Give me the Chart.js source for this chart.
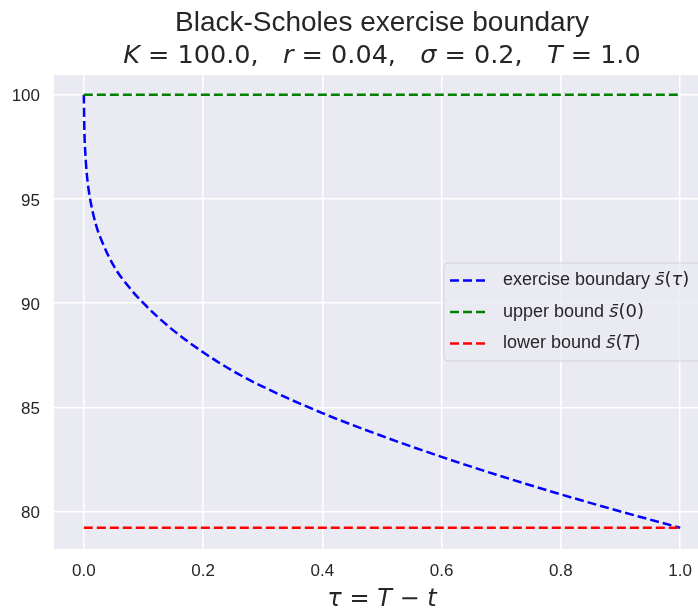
<!DOCTYPE html>
<html>
<head>
<meta charset="utf-8">
<script src="https://cdn.jsdelivr.net/npm/chart.js@4.4.1/dist/chart.umd.min.js"></script>
<style>
  html, body { margin: 0; padding: 0; background: #fff; overflow: hidden; }
  #wrap { width: 698px; height: 609px; overflow: hidden; }
</style>
</head>
<body>
<div id="wrap"><canvas id="boundaryChart" width="720" height="609"></canvas></div>
<script>
// --- data ---
const tauValues      = [0.0, 0.001, 0.0025, 0.005, 0.01, 0.02, 0.03, 0.05, 0.075, 0.1, 0.15, 0.2, 0.25, 0.3, 0.4, 0.5, 0.6, 0.7, 0.8, 0.9, 1.0];
const boundaryValues = [100.0, 98.2, 97.2, 96.2, 95.1, 93.8, 93.0, 91.8, 90.8, 90.0, 88.7, 87.65, 86.75, 86.0, 84.73, 83.63, 82.63, 81.7, 80.83, 80.01, 79.23];
const boundsTau      = [0.0, 1.0];
const upperValues    = [100.0, 100.0];
const lowerValues    = [79.23, 79.23];
const xTicks = [0.0, 0.2, 0.4, 0.6, 0.8, 1.0];
const yTicks = [80, 85, 90, 95, 100];
const legendLabels = ['exercise boundary ', 'upper bound ', 'lower bound '];
const legendArgs   = ['τ', '0', 'T'];
const lineColors   = ['#0000ff', '#008000', '#ff0000'];

const TEXT = '#262626';
const SANS = "'Liberation Sans', Arial, sans-serif";
const MATH = "'DejaVu Sans', sans-serif";
const DASH = [9, 4];

const toPoints = (xs, ys) => xs.map((x, i) => ({ x, y: ys[i] }));

// draws a row of text pieces with their own fonts, aligned as a whole
function drawPieces(ctx, pieces, x, y, align) {
    let total = 0;
    pieces.forEach(p => { ctx.font = p.font; total += ctx.measureText(p.t).width; });
    let cx = align === 'center' ? x - total / 2 : x;
    ctx.textAlign = 'left';
    pieces.forEach(p => {
        ctx.font = p.font;
        ctx.fillText(p.t, cx, y);
        cx += ctx.measureText(p.t).width;
    });
}

// ============================================================
// plot background, title, x label and legend
// ============================================================
const decorations = {
    id: 'decorations',
    beforeDraw(chart) {
        const { ctx, chartArea: a } = chart;
        ctx.save();
        ctx.fillStyle = '#eaeaf2';
        ctx.fillRect(a.left, a.top, a.right - a.left, a.bottom - a.top);
        ctx.restore();
    },
    afterDraw(chart) {
        const { ctx, chartArea: a } = chart;
        const mid = (a.left + a.right) / 2;
        ctx.save();
        ctx.fillStyle = TEXT;
        ctx.textBaseline = 'alphabetic';

        // title
        drawPieces(ctx, [{ t: 'Black-Scholes exercise boundary', font: `28px ${SANS}` }], mid, 31, 'center');
        const up = `25.5px ${MATH}`, it = `italic 25.5px ${MATH}`;
        drawPieces(ctx, [
            { t: 'K', font: it }, { t: ' = 100.0,   ', font: up },
            { t: 'r', font: it }, { t: ' = 0.04,   ', font: up },
            { t: 'σ', font: it }, { t: ' = 0.2,   ', font: up },
            { t: 'T', font: it }, { t: ' = 1.0', font: up }
        ], mid, 63, 'center');

        // x axis label
        const lu = `24px ${MATH}`, li = `italic 24px ${MATH}`;
        drawPieces(ctx, [
            { t: 'τ', font: li }, { t: ' = ', font: lu }, { t: 'T', font: li },
            { t: ' − ', font: lu }, { t: 't', font: li }
        ], mid, 606, 'center');

        // legend box
        const bx = 444, by = 263, bw = 259, bh = 98;
        ctx.beginPath();
        ctx.roundRect(bx, by, bw, bh, 4);
        ctx.fillStyle = 'rgba(234, 234, 242, 0.8)';
        ctx.fill();
        ctx.strokeStyle = 'rgba(204, 204, 204, 0.8)';
        ctx.lineWidth = 1;
        ctx.stroke();

        const rows = [280.5, 312, 343.5];
        const fs = 18;
        ctx.textBaseline = 'middle';
        rows.forEach((ry, i) => {
            ctx.beginPath();
            ctx.setLineDash(DASH);
            ctx.strokeStyle = lineColors[i];
            ctx.lineWidth = 2.5;
            ctx.moveTo(450, ry);
            ctx.lineTo(487, ry);
            ctx.stroke();
            ctx.setLineDash([]);
            ctx.fillStyle = TEXT;
            drawPieces(ctx, [
                { t: legendLabels[i], font: `${fs}px ${SANS}` },
                { t: 's\u0304', font: `italic ${fs}px ${MATH}` },
                { t: '(', font: `${fs}px ${MATH}` },
                { t: legendArgs[i], font: legendArgs[i] === '0' ? `${fs}px ${MATH}` : `italic ${fs}px ${MATH}` },
                { t: ')', font: `${fs}px ${MATH}` }
            ], 503, ry, 'left');
        });
        ctx.restore();
    }
};

const lineStyle = (color) => ({
    borderColor: color,
    borderWidth: 2.5,
    borderDash: DASH,
    pointRadius: 0,
    fill: false,
    cubicInterpolationMode: 'monotone'
});

new Chart(document.getElementById('boundaryChart'), {
    type: 'line',
    data: {
        datasets: [
            { label: 'exercise boundary', data: toPoints(tauValues, boundaryValues), order: 2, ...lineStyle(lineColors[0]) },
            { label: 'upper bound', data: toPoints(boundsTau, upperValues), order: 1, ...lineStyle(lineColors[1]) },
            { label: 'lower bound', data: toPoints(boundsTau, lowerValues), order: 0, ...lineStyle(lineColors[2]) }
        ]
    },
    options: {
        responsive: false,
        devicePixelRatio: 1,
        animation: false,
        layout: { padding: { top: 75, right: 10, left: 0, bottom: 0 } },
        plugins: { legend: { display: false }, title: { display: false }, tooltip: { enabled: false } },
        scales: {
            x: {
                type: 'linear',
                min: -0.05,
                max: 1.05,
                afterBuildTicks: s => { s.ticks = xTicks.map(v => ({ value: v })); },
                afterFit: s => { s.height = 60; },
                ticks: { callback: v => v.toFixed(1), color: TEXT, font: { family: SANS, size: 17 }, padding: 12, maxRotation: 0 },
                grid: { color: '#ffffff', lineWidth: 1.5, drawTicks: false },
                border: { display: false }
            },
            y: {
                min: 78.21,
                max: 100.95,
                afterBuildTicks: s => { s.ticks = yTicks.map(v => ({ value: v })); },
                afterFit: s => { s.width = 54; },
                ticks: { callback: v => String(v), color: TEXT, font: { family: SANS, size: 17 }, padding: 14, labelOffset: 2 },
                grid: { color: '#ffffff', lineWidth: 1.5, drawTicks: false },
                border: { display: false }
            }
        }
    },
    plugins: [decorations]
});
</script>
</body>
</html>
